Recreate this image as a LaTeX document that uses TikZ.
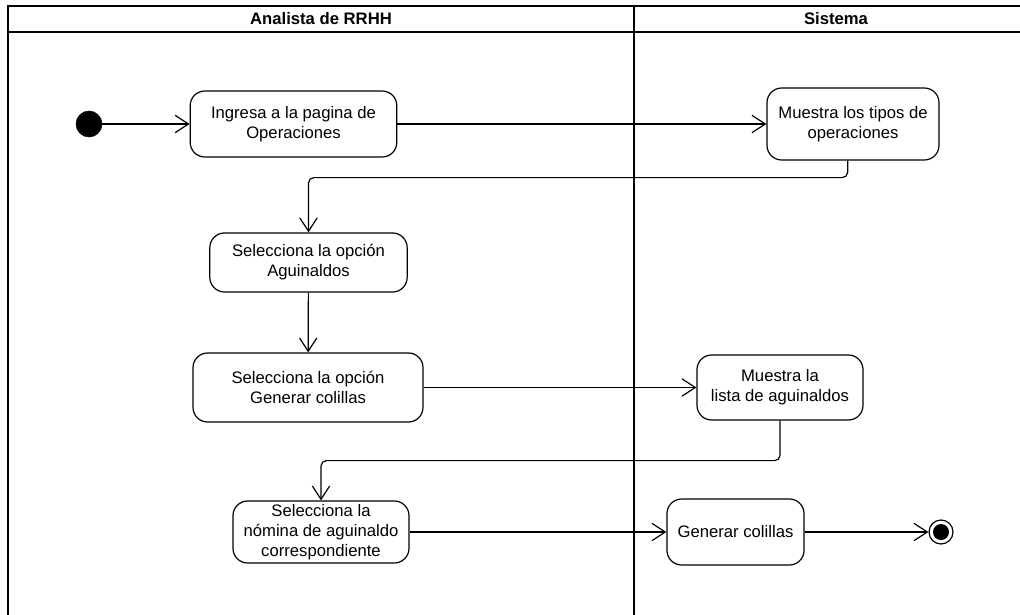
\documentclass[tikz,border=0pt]{standalone}
\usepackage{fontspec}
\setmainfont{Liberation Sans}
\usetikzlibrary{arrows.meta}

\begin{document}
\begin{tikzpicture}[x=0.75pt,y=-0.75pt,>={Straight Barb[length=10pt,width=13pt]},
actividad/.style = {draw, rounded corners=11pt, align=center, inner sep=1pt, line width=0.9pt, font=\fontsize{12.5}{15}\selectfont},
inicio/.style = {draw, circle, fill = black, minimum size=19.5pt, inner sep = 0pt},
flujo/.style = {->, line width=0.9pt, rounded corners=4pt},
carril/.style = {line width=2.2pt},
titulo/.style = {font=\bfseries\fontsize{12.5}{15}\selectfont},]
\useasboundingbox (0,0) rectangle (1020,614);
\clip (0,0) rectangle (1020,614);
% carriles
\draw[carril] (8,6) rectangle (1060,660);
\draw[carril] (8,32)--(1060,32);
\draw[carril] (634,6)--(634,660);
\node (analista) at (321,19)[titulo] {Analista de RRHH};
\node (sistema) at (836,19)[titulo] {Sistema};
% actividades
\node (ini) at (89,124)[inicio] {};
\node (ing) at (293.5,124)[actividad,minimum width=155pt,minimum height=49.5pt] {Ingresa a la pagina de\\Operaciones};
\node (mue) at (853,124)[actividad,minimum width=129pt,minimum height=54pt] {Muestra los tipos de\\operaciones};
\node (sel) at (308.5,262.5)[actividad,minimum width=148pt,minimum height=44.3pt] {Selecciona la opción\\Aguinaldos};
\node (gen) at (308,387.5)[actividad,minimum width=172.5pt,minimum height=51.8pt] {Selecciona la opción\\Generar colillas};
\node (lis) at (780,387.5)[actividad,minimum width=124.5pt,minimum height=48.8pt] {Muestra la\\lista de aguinaldos};
\node (nom) at (321,532)[actividad,minimum width=132pt,minimum height=46.5pt] {Selecciona la\\nómina de aguinaldo\\correspondiente};
\node (col) at (735.5,532)[actividad,minimum width=102.8pt,minimum height=49.5pt] {Generar colillas};
\node (fin) at (941,532)[draw, circle, line width=0.9pt, minimum size=18pt, inner sep=0pt] {};
\node (finc) at (fin)[circle, fill = black, minimum size=12pt, inner sep=0pt] {};
% flujos
\draw[flujo] (ini)--(ing);
\draw[flujo] (ing)--(mue);
\draw[flujo] ([xshift=-4pt]mue.south)--++(0,17)-|(sel.north);
\draw[flujo] (sel)--(gen);
\draw[flujo] (gen)--(lis);
\draw[flujo] (lis.south)--++(0,40)-|(nom.north);
\draw[flujo] (nom)--(col);
\draw[flujo] (col)--(fin);
\end{tikzpicture}
\end{document}
